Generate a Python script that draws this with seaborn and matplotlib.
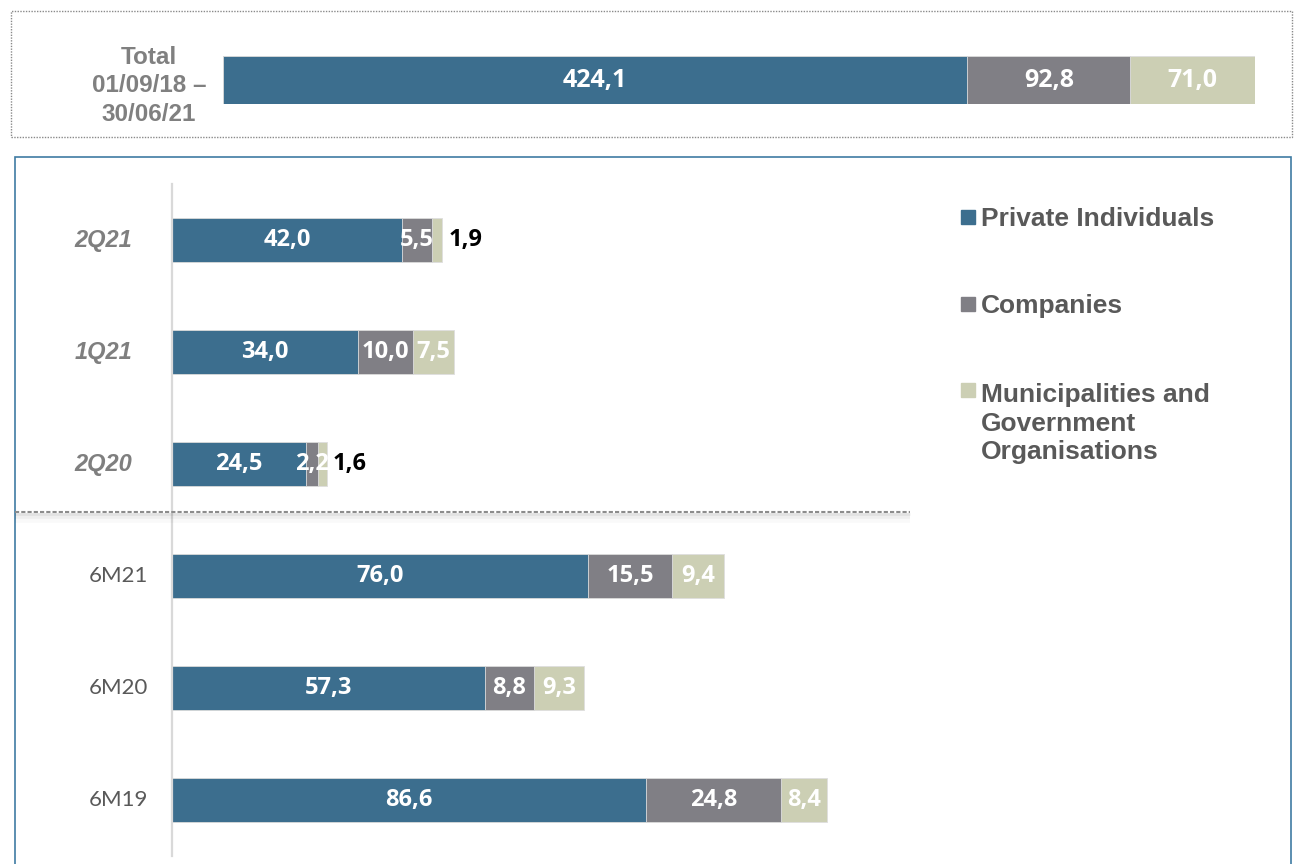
import matplotlib
matplotlib.use("Agg")
import matplotlib.pyplot as plt
import seaborn as sns
import pandas as pd
from matplotlib.patches import Rectangle
from matplotlib.lines import Line2D

# ---- data ---------------------------------------------------------------
periods = ["2Q21", "1Q21", "2Q20", "6M21", "6M20", "6M19"]
quarter_periods = ["2Q21", "1Q21", "2Q20"]
private = [42.0, 34.0, 24.5, 76.0, 57.3, 86.6]
companies = [5.5, 10.0, 2.2, 15.5, 8.8, 24.8]
municipal = [1.9, 7.5, 1.6, 9.4, 9.3, 8.4]

total_label = "Total\n01/09/18 –\n30/06/21"
total_private = [424.1]
total_companies = [92.8]
total_municipal = [71.0]

series_names = ["Private Individuals", "Companies",
                "Municipalities and\nGovernment\nOrganisations"]
colors = ["#3C6E8E", "#807F85", "#CCCFB4"]

# ---- styling --------------------------------------------------------------
sns.set_theme(style="white")
plt.rcParams["font.family"] = ["Liberation Sans", "DejaVu Sans"]
VALUE_FONT = ["Open Sans", "DejaVu Sans"]
LABEL_FONT = ["Lato", "DejaVu Sans"]

W, H = 1297, 864
fig = plt.figure(figsize=(W / 100, H / 100), dpi=100)


def fx(px):
    return px / W


def fy(py):
    return 1 - py / H


def fmt(v):
    return f"{v:.1f}".replace(".", ",")


def stacked_bars(ax, cats, seg_lists, width):
    """Stacked horizontal bars drawn as cumulative layers with seaborn."""
    cum = []
    running = [0.0] * len(cats)
    for seg in seg_lists:
        running = [r + s for r, s in zip(running, seg)]
        cum.append(list(running))
    for vals, col in reversed(list(zip(cum, colors))):
        df = pd.DataFrame({"cat": cats, "val": vals})
        sns.barplot(data=df, x="val", y="cat", order=cats, color=col,
                    saturation=1, width=width, errorbar=None, ax=ax,
                    edgecolor="#dedede", linewidth=0.6)
    return cum


# ---- top panel: cumulative total ---------------------------------------
ax_top = fig.add_axes([fx(223), fy(104), fx(1032), 48 / H])
top_segs = [total_private, total_companies, total_municipal]
stacked_bars(ax_top, ["Total"], top_segs, width=1.0)
ax_top.set_xlim(0, sum(s[0] for s in top_segs))
ax_top.set_ylim(0.5, -0.5)
ax_top.axis("off")
start = 0.0
for seg in top_segs:
    v = seg[0]
    ax_top.text(start + v / 2, 0, fmt(v), ha="center", va="center",
                color="white", fontsize=18, fontweight="bold",
                family=VALUE_FONT)
    start += v

fig.text(fx(149), fy(86), total_label, ha="center", va="center",
         multialignment="center", color="#808080", fontsize=17.5,
         fontweight="bold", linespacing=1.3)

fig.add_artist(Rectangle((fx(11), fy(137)), fx(1281), 126 / H, fill=False,
                         ec="#8a8a8a", lw=1.0, ls=(0, (1, 1)),
                         transform=fig.transFigure))

# ---- lower panel: periods ------------------------------------------------
ax = fig.add_axes([fx(172), fy(856), fx(711), 672 / H])
segs = [private, companies, municipal]
stacked_bars(ax, periods, segs, width=0.4)
ax.set_xlim(0, 130)
ax.set_ylim(5.5, -0.5)
ax.set_xlabel("")
ax.set_ylabel("")
ax.set_xticks([])
ax.set_yticks([])
for side in ["top", "right", "bottom"]:
    ax.spines[side].set_visible(False)
ax.spines["left"].set_color("#d9d9d9")
ax.spines["left"].set_linewidth(1.6)
ax.set_facecolor("none")

px_unit = 711 / 130
for i, cat in enumerate(periods):
    start = 0.0
    for k, seg in enumerate(segs):
        v = seg[i]
        last = k == len(segs) - 1
        if last and v < 2:
            ax.text(start + v + 6 / px_unit, i, fmt(v), ha="left",
                    va="center", color="black", fontsize=17,
                    fontweight="bold", family=VALUE_FONT)
        else:
            ax.text(start + v / 2, i, fmt(v), ha="center", va="center",
                    color="white", fontsize=17, fontweight="bold",
                    family=VALUE_FONT)
        start += v

    ytrans = ax.get_yaxis_transform()
    if cat in quarter_periods:
        ax.text((132 - 172) / 711, i, cat, transform=ytrans, ha="right",
                va="center", color="#7f7f7f", fontsize=17,
                fontweight="bold", fontstyle="italic", clip_on=False)
    else:
        ax.text((148 - 172) / 711, i, cat, transform=ytrans, ha="right",
                va="center", color="#595959", fontsize=16,
                family=LABEL_FONT, clip_on=False)

# separator between quarters and half-years, with a soft shadow
for dy, lw, a in [(6, 7, 0.025), (4, 4, 0.04), (2, 2, 0.05)]:
    fig.add_artist(Line2D([fx(15), fx(910)], [fy(512 + dy)] * 2,
                          color="black", lw=lw, alpha=a,
                          transform=fig.transFigure, solid_capstyle="butt"))
fig.add_artist(Line2D([fx(15), fx(910)], [fy(512)] * 2, color="#8c8c8c",
                      lw=1.5, ls=(0, (2, 1)), transform=fig.transFigure))

# frame of the lower panel
fig.add_artist(Rectangle((fx(15), fy(880)), fx(1276), (880 - 157) / H,
                         fill=False, ec="#3F7CA3", lw=1.2,
                         transform=fig.transFigure))

# ---- legend ---------------------------------------------------------------
legend_centers = [217, 304, 390]
line_step = 30.5
for name, col, yc in zip(series_names, colors, legend_centers):
    fig.add_artist(Rectangle((fx(961), fy(yc + 7)), fx(14), 14 / H,
                             color=col, transform=fig.transFigure))
    n_lines = name.count("\n")
    # baseline of the last line of the entry
    fig.text(fx(981), fy(yc + 8.5 + n_lines * line_step), name, ha="left",
             va="baseline", color="#595959", fontsize=19, fontweight="bold",
             linespacing=1.25)

fig.savefig("out.png", dpi=100)
